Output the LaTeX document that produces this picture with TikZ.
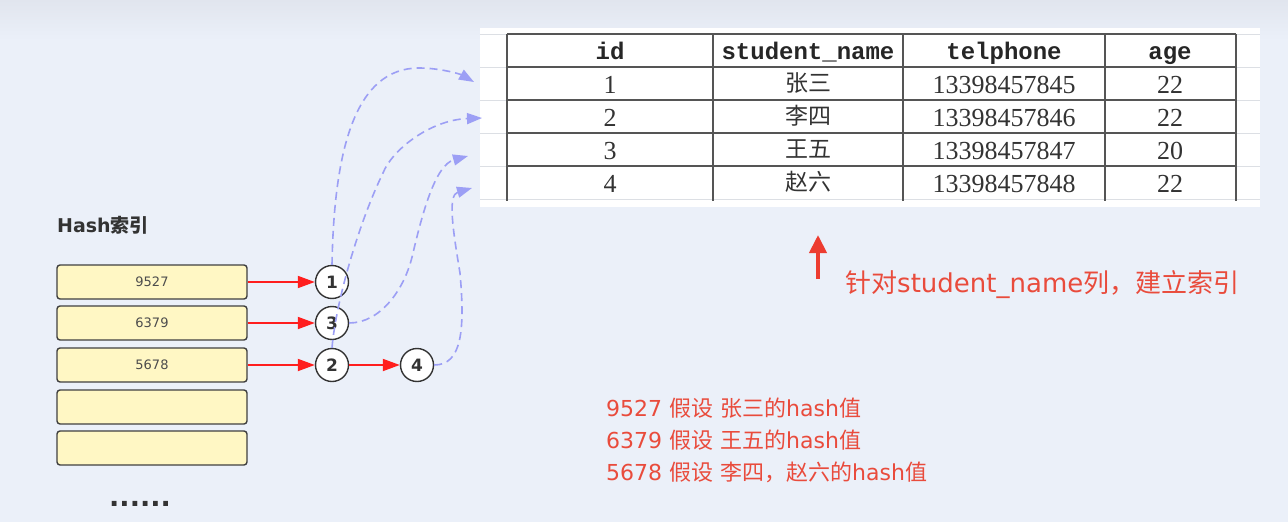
\documentclass[tikz,border=0pt]{standalone}
\usepackage{fontspec}
\setmainfont{DejaVu Sans}
\newfontfamily\cjk{Noto Sans CJK SC}
\newfontfamily\headfont{Liberation Mono}
\newfontfamily\cellfont{Liberation Serif}
\usetikzlibrary{arrows.meta}
\definecolor{bgblue}{HTML}{EBF0F9}
\definecolor{bgtop}{HTML}{E1E5EE}
\definecolor{gridline}{HTML}{DCDFE4}
\definecolor{tableline}{HTML}{555555}
\definecolor{boxfill}{HTML}{FFF7C4}
\definecolor{hashred}{HTML}{FF1E1E}
\definecolor{notered}{HTML}{E94B3C}
\definecolor{linkblue}{HTML}{9C9FF5}
\newcommand{\pxsize}[1]{\fontsize{#1}{#1}\selectfont}
\tikzset{
  bucket/.style={draw=black!75,line width=1.4pt,fill=boxfill,rounded corners=3pt,minimum width=190pt,minimum height=34pt,inner sep=0pt,font=\pxsize{13},text=black!70},
  entry/.style={circle,draw=black!80,line width=1.4pt,fill=white,minimum size=33pt,inner sep=0pt,font=\pxsize{17}\bfseries,text=black!80},
  chain/.style={draw=hashred,line width=1.8pt,-{Triangle[length=17pt,width=12pt]}},
  link/.style={draw=linkblue,line width=1.6pt,dash pattern=on 8pt off 5pt,-{Triangle[length=15pt,width=11pt]}},
  head/.style={anchor=base,font=\headfont\bfseries\pxsize{24},text=black!85},
  cell/.style={anchor=base,font=\cellfont\pxsize{26},text=black!80},
  cjkcell/.style={anchor=base,font=\cjk\pxsize{23},text=black!80},
  note/.style={anchor=west,text=notered,inner sep=0pt},
}
\begin{document}
\begin{tikzpicture}[x=1pt,y=-1pt]
\useasboundingbox (0,0) rectangle (1288,522);
\fill[bgblue] (0,0) rectangle (1288,522);
\shade[top color=bgtop,bottom color=bgblue] (0,0) rectangle (1288,40);
% table
\fill[white] (480,28) rectangle (1260,207);
\foreach \y in {34,67,100,133,166,199}
  \draw[gridline,line width=1pt] (480,\y) -- (1260,\y);
\foreach \y in {34,67,100,133,166}
  \draw[tableline,line width=1.5pt] (507,\y) -- (1236,\y);
\foreach \x in {507,713,903,1105,1236}
  \draw[tableline,line width=1.5pt] (\x,34) -- (\x,201);
\node[head] (hid) at (610,59) {id};
\node[head] (hname) at (808,59) {student\_name};
\node[head] (htel) at (1004,59) {telphone};
\node[head] (hage) at (1170,59) {age};
\foreach \i/\n/\t/\a in {1/张三/13398457845/22,2/李四/13398457846/22,3/王五/13398457847/20,4/赵六/13398457848/22}{
  \node[cell] (id\i) at (610,{60+33*\i}) {\i};
  \node[cjkcell] (name\i) at (808,{58+33*\i}) {\n};
  \node[cell] (tel\i) at (1004,{60+33*\i}) {\t};
  \node[cell] (age\i) at (1170,{60+33*\i}) {\a};
}
% hash buckets
\node[anchor=west,inner sep=0pt,text=black!80,font=\pxsize{19}\bfseries] (title) at (57,225) {Hash{\cjk 索引}};
\node[bucket] (b1) at (152,282) {9527};
\node[bucket] (b2) at (152,323) {6379};
\node[bucket] (b3) at (152,365) {5678};
\node[bucket] (b4) at (152,407) {};
\node[bucket] (b5) at (152,448) {};
\node[anchor=base,inner sep=0pt,font=\pxsize{27}\bfseries,text=black!80] (more) at (140,506) {......};
% entries
\node[entry] (n1) at (332,282) {1};
\node[entry] (n3) at (332,323) {3};
\node[entry] (n2) at (332,365) {2};
\node[entry] (n4) at (417,365) {4};
\draw[chain] (b1.east) -- (n1.west);
\draw[chain] (b2.east) -- (n3.west);
\draw[chain] (b3.east) -- (n2.west);
\draw[chain] (n2.east) -- (n4.west);
% links to rows
\coordinate (t1) at (474,82);
\coordinate (t2) at (482,118);
\coordinate (t3) at (468,156);
\coordinate (t4) at (472,188);
\draw[link] (n1.north) .. controls (334,150) and (355,68) .. (419,68) .. controls (440,68) and (460,74) .. (t1);
\draw[link] (n2.north) .. controls (336,300) and (360,220) .. (383,173) .. controls (392,150) and (430,120) .. (t2);
\draw[link] (n3.east) .. controls (380,323) and (405,290) .. (413,253) .. controls (422,215) and (435,165) .. (t3);
\draw[link] (n4.east) .. controls (462,365) and (465,330) .. (460,273) .. controls (452,225) and (448,195) .. (t4);
% notes
\coordinate (up0) at (818,279);
\coordinate (up1) at (818,235);
\draw[draw=notered!80!red,line width=4pt,-{Triangle[length=18pt,width=17pt]}] (up0) -- (up1);
\node[note,font=\pxsize{26}] (colnote) at (845,285) {{\cjk 针对}student\_name{\cjk 列，建立索引}};
\node[note,font=\pxsize{22}] (hv1) at (606,408) {9527 {\cjk 假设} {\cjk 张三的}hash{\cjk 值}};
\node[note,font=\pxsize{22}] (hv2) at (606,440) {6379 {\cjk 假设} {\cjk 王五的}hash{\cjk 值}};
\node[note,font=\pxsize{22}] (hv3) at (606,472) {5678 {\cjk 假设} {\cjk 李四，赵六的}hash{\cjk 值}};
\end{tikzpicture}
\end{document}
